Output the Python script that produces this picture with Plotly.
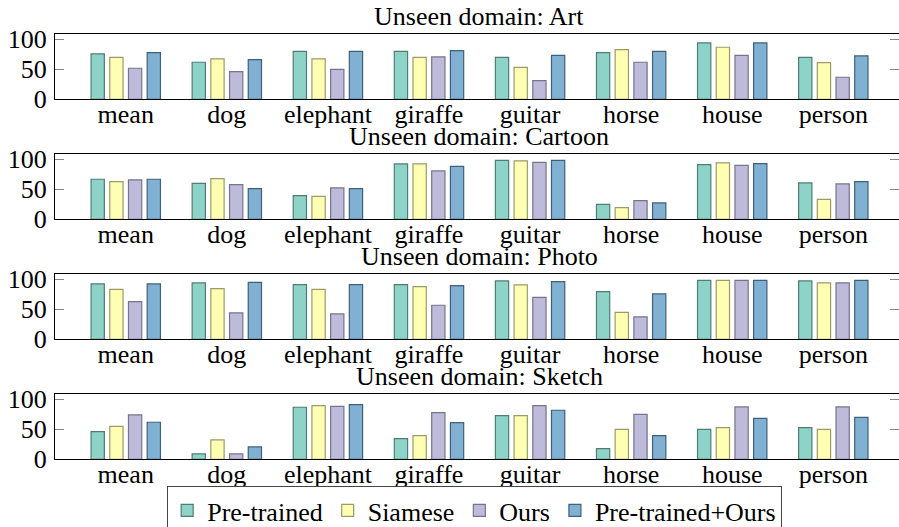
import plotly.graph_objects as go

categories = ["mean", "dog", "elephant", "giraffe", "guitar", "horse", "house", "person"]
series_names = ["Pre-trained", "Siamese", "Ours", "Pre-trained+Ours"]
domains = ["Art", "Cartoon", "Photo", "Sketch"]

art_pretrained = [75.6, 61.7, 80, 80, 70, 77.8, 93.9, 70]
art_siamese = [70, 67.2, 67.2, 70, 53.3, 82.8, 86.7, 61]
art_ours = [51.7, 46, 50, 70.6, 31, 61.7, 73.3, 36.7]
art_combined = [77.8, 66, 80, 81, 73.3, 80, 93.9, 72.2]

cartoon_pretrained = [66.7, 60, 39.4, 92.2, 98.3, 25, 91.1, 60.6]
cartoon_siamese = [62.8, 67.8, 38.3, 92.2, 97.2, 19.4, 93.9, 33.3]
cartoon_ours = [65.6, 57.8, 52.2, 80.6, 95, 31.1, 90, 58.9]
cartoon_combined = [66.7, 51.1, 51.1, 88.3, 98.3, 27.2, 92.8, 62.8]

photo_pretrained = [92.2, 93.9, 91.1, 91.1, 97.2, 79.4, 98.3, 97.2]
photo_siamese = [83.3, 84.4, 83.3, 87.8, 90.6, 45, 98.3, 93.9]
photo_ours = [62.8, 43.9, 42.2, 56.7, 70, 37.2, 98.3, 93.9]
photo_combined = [92.2, 95, 91.1, 89.4, 96.1, 75.6, 98.3, 98.3]

sketch_pretrained = [46.1, 8.9, 86.7, 34.4, 72.8, 17.8, 50, 52.8]
sketch_siamese = [55, 32.2, 89.4, 39.4, 72.8, 50, 52.8, 50]
sketch_ours = [73.9, 8.9, 88.3, 77.8, 89.4, 75, 87.2, 87.2]
sketch_combined = [61.7, 20.6, 91.1, 61.1, 81.7, 39.4, 68.3, 70]

y_ticks = [0, 50, 100]

data = {
    "Art": [art_pretrained, art_siamese, art_ours, art_combined],
    "Cartoon": [cartoon_pretrained, cartoon_siamese, cartoon_ours, cartoon_combined],
    "Photo": [photo_pretrained, photo_siamese, photo_ours, photo_combined],
    "Sketch": [sketch_pretrained, sketch_siamese, sketch_ours, sketch_combined],
}

fills = ["#8dd3c7", "#ffffb3", "#bebada", "#80b1d3"]
edges = ["#4f7d76", "#9b9b6a", "#76748c", "#40607a"]

W, H = 899, 527
FONT = "Liberation Serif"
FS = 26

panel_tops = [34.3, 154.3, 274.3, 394.3]
panel_h = 65.0

fig = go.Figure()
layout = dict(
    width=W, height=H,
    margin=dict(l=0, r=0, t=0, b=0, autoexpand=False),
    paper_bgcolor="white", plot_bgcolor="white",
    barmode="group", bargap=0.26, bargroupgap=0.29,
    font=dict(family=FONT, size=FS, color="black"),
    showlegend=True,
    legend=dict(orientation="h", x=0.528, xanchor="center", y=1 - 486 / H, yanchor="top",
                bordercolor="#444", borderwidth=1, bgcolor="white",
                font=dict(family=FONT, size=FS), itemwidth=30, tracegroupgap=0),
)
annotations = []
for i, dom in enumerate(domains):
    ax = "" if i == 0 else str(i + 1)
    top = panel_tops[i]
    bot = top + panel_h
    ydom = [1 - bot / H, 1 - top / H]
    for s in range(4):
        fig.add_trace(go.Bar(
            x=categories, y=data[dom][s], name=series_names[s],
            marker=dict(color=fills[s], line=dict(color=edges[s], width=1.2)),
            xaxis="x" + ax, yaxis="y" + ax, showlegend=(i == 0), legendgroup=series_names[s],
        ))
    layout["xaxis" + ax] = dict(
        domain=[55 / W, 1.0], anchor="y" + ax, range=[-0.70, 7.65],
        showline=True, linecolor="black", linewidth=1.3, mirror=True,
        ticks="", showgrid=False, tickfont=dict(family=FONT, size=FS),
        ticklabelstandoff=-9,
    )
    layout["yaxis" + ax] = dict(
        domain=ydom, anchor="x" + ax, range=[0, 108.3],
        tickvals=y_ticks, ticks="inside", ticklen=9, tickcolor="#888", tickwidth=1,
        showline=True, linecolor="black", linewidth=1.3, mirror="ticks",
        showgrid=False, zeroline=False, tickfont=dict(family=FONT, size=FS),
        ticklabelstandoff=2,
    )
    annotations.append(dict(
        text="Unseen domain: " + dom, x=0.533, xref="paper", xanchor="center",
        y=1 - (top - 1) / H, yref="paper", yanchor="bottom", showarrow=False,
        font=dict(family=FONT, size=FS),
    ))
layout["annotations"] = annotations
fig.update_layout(**layout)
fig.write_html(
    "out.html",
    config={"displayModeBar": False},
    post_script="document.body.style.margin='0';document.body.style.overflow='hidden';",
)
